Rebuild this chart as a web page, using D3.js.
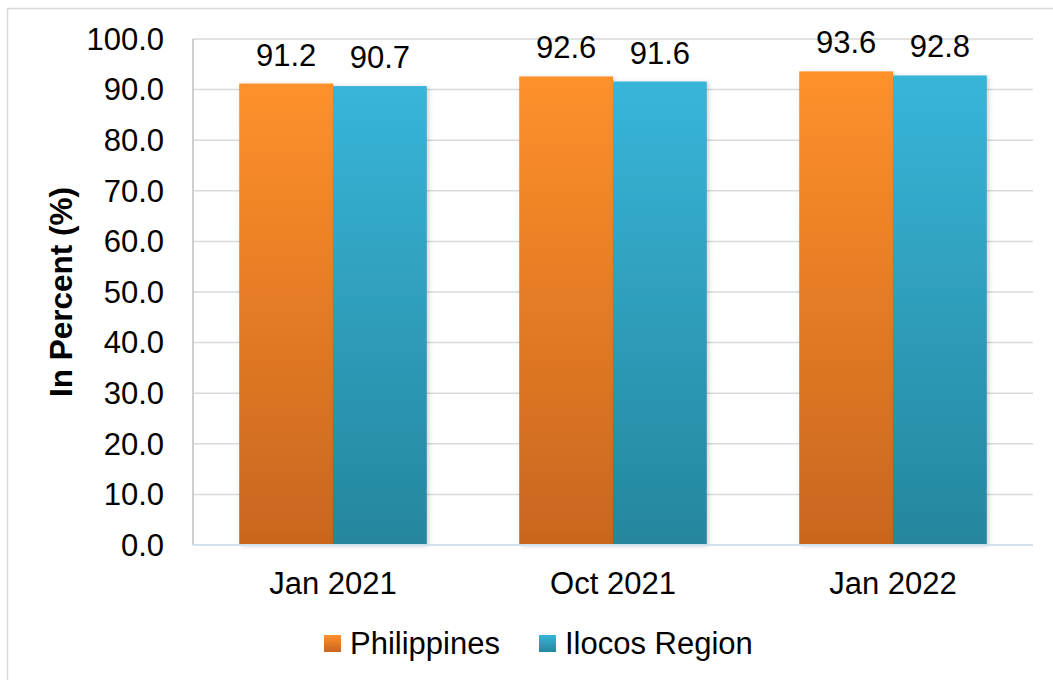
<!DOCTYPE html>
<html>
<head>
<meta charset="utf-8">
<script src="https://cdn.jsdelivr.net/npm/d3@7"></script>
<style>
  body { margin: 0; background: #fff; }
  text { font-family: "Liberation Sans", Arial, sans-serif; fill: #000; }
</style>
</head>
<body>
<div id="chart"></div>
<script>
var categories = ["Jan 2021", "Oct 2021", "Jan 2022"];
var seriesNames = ["Philippines", "Ilocos Region"];
var philippines = [91.2, 92.6, 93.6];
var ilocos = [90.7, 91.6, 92.8];
var yTicks = [0, 10, 20, 30, 40, 50, 60, 70, 80, 90, 100];

var width = 1053;
var height = 680;
var margin = { top: 39, right: 20, bottom: 135, left: 193 };
var fontSize = "31px";

var svg = d3.select("#chart")
    .append("svg")
    .attr("width", width)
    .attr("height", height);

// gradientes de las barras
var defs = svg.append("defs");
var gradColors = [["#fe912b", "#c9651f"], ["#38b5d9", "#25869d"]];
gradColors.forEach(function(c, i) {
    var g = defs.append("linearGradient")
        .attr("id", "grad" + i)
        .attr("x1", 0).attr("y1", 0).attr("x2", 0).attr("y2", 1);
    g.append("stop").attr("offset", "0%").attr("stop-color", c[0]);
    g.append("stop").attr("offset", "100%").attr("stop-color", c[1]);
});
var shadow = defs.append("filter").attr("id", "shadow")
    .attr("x", "-10%").attr("y", "-10%").attr("width", "130%").attr("height", "130%");
shadow.append("feDropShadow")
    .attr("dx", 2).attr("dy", 1).attr("stdDeviation", 2)
    .attr("flood-color", "#000").attr("flood-opacity", 0.18);

// borde exterior
svg.append("rect")
    .attr("x", 7.5).attr("y", 8.5)
    .attr("width", 1060).attr("height", 700)
    .attr("fill", "none")
    .attr("stroke", "#d9d9d9")
    .attr("stroke-width", 1.5);

var x0 = d3.scaleBand()
    .domain(categories)
    .range([margin.left, width - margin.right])
    .paddingInner(0.33)
    .paddingOuter(0.165);

var x1 = d3.scaleBand()
    .domain(seriesNames)
    .range([0, x0.bandwidth()])
    .padding(0);

var y = d3.scaleLinear()
    .domain([0, 100])
    .range([height - margin.bottom, margin.top]);

// líneas de la cuadrícula
svg.append("g")
    .selectAll("line")
    .data(yTicks.filter(function(d) { return d > 0; }))
    .enter()
    .append("line")
    .attr("x1", margin.left)
    .attr("x2", width - margin.right)
    .attr("y1", function(d) { return y(d); })
    .attr("y2", function(d) { return y(d); })
    .attr("stroke", "#d9d9d9")
    .attr("stroke-width", 1.5);

// etiquetas del eje y
svg.append("g")
    .selectAll("text")
    .data(yTicks)
    .enter()
    .append("text")
    .attr("x", margin.left - 29)
    .attr("y", function(d) { return y(d); })
    .attr("dy", "0.35em")
    .attr("text-anchor", "end")
    .style("font-size", fontSize)
    .text(function(d) { return d.toFixed(1); });

// barras
var rows = categories.map(function(c, i) {
    return { category: c, values: [philippines[i], ilocos[i]] };
});

var groups = svg.append("g")
    .selectAll("g")
    .data(rows)
    .enter()
    .append("g")
    .attr("transform", function(d) { return "translate(" + x0(d.category) + ",0)"; });

groups.selectAll("rect")
    .data(function(d) { return d.values.map(function(v, j) { return { name: seriesNames[j], value: v, idx: j }; }); })
    .enter()
    .append("rect")
    .attr("x", function(d) { return x1(d.name); })
    .attr("y", function(d) { return y(d.value); })
    .attr("width", x1.bandwidth())
    .attr("height", function(d) { return y(0) - y(d.value); })
    .attr("fill", function(d) { return "url(#grad" + d.idx + ")"; })
    .attr("filter", "url(#shadow)");

groups.selectAll("text")
    .data(function(d) { return d.values.map(function(v, j) { return { name: seriesNames[j], value: v }; }); })
    .enter()
    .append("text")
    .attr("x", function(d) { return x1(d.name) + x1.bandwidth() / 2; })
    .attr("y", function(d) { return y(d.value) - 18; })
    .attr("text-anchor", "middle")
    .style("font-size", fontSize)
    .text(function(d) { return d.value.toFixed(1); });

// ejes
svg.append("line")
    .attr("x1", margin.left).attr("x2", margin.left)
    .attr("y1", margin.top).attr("y2", y(0))
    .attr("stroke", "#bfbfbf").attr("stroke-width", 1.5);
svg.append("line")
    .attr("x1", margin.left).attr("x2", width - margin.right)
    .attr("y1", y(0)).attr("y2", y(0))
    .attr("stroke", "#d3e0f2").attr("stroke-width", 2);

// etiquetas del eje x
svg.append("g")
    .selectAll("text")
    .data(categories)
    .enter()
    .append("text")
    .attr("x", function(d) { return x0(d) + x0.bandwidth() / 2; })
    .attr("y", 594)
    .attr("text-anchor", "middle")
    .style("font-size", fontSize)
    .text(function(d) { return d; });

// título del eje y
svg.append("text")
    .attr("transform", "translate(72," + ((margin.top + y(0)) / 2) + ") rotate(-90)")
    .attr("text-anchor", "middle")
    .style("font-size", "31.5px")
    .style("font-weight", "bold")
    .text("In Percent (%)");

// leyenda
var legendX = [324, 539];
var legend = svg.append("g")
    .selectAll("g")
    .data(seriesNames)
    .enter()
    .append("g")
    .attr("transform", function(d, i) { return "translate(" + legendX[i] + ",635)"; });

legend.append("rect")
    .attr("width", 17)
    .attr("height", 17)
    .attr("fill", function(d, i) { return "url(#grad" + i + ")"; });

legend.append("text")
    .attr("x", 26)
    .attr("y", 19)
    .style("font-size", fontSize)
    .text(function(d) { return d; });
</script>
</body>
</html>
